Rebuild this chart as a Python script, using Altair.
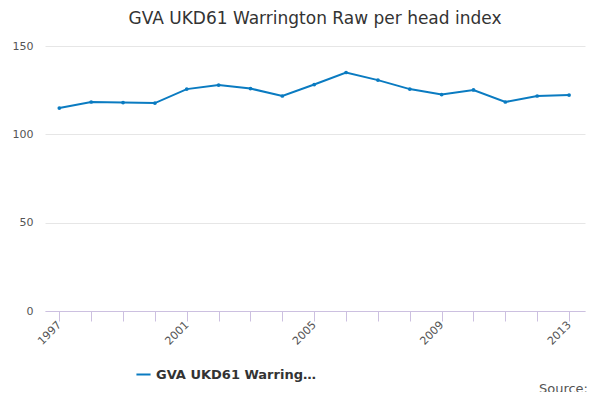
import pandas as pd
import altair as alt

years = list(range(1997, 2014))
values = [114.9, 118.3, 118.0, 117.7, 125.6, 127.9, 125.9, 121.7, 128.2,
          135.0, 130.7, 125.6, 122.5, 125.1, 118.3, 121.7, 122.2]
series = "GVA UKD61 Warrington Raw per head index"

df = pd.DataFrame({"year": years, "value": values, "series": series})

line = alt.Chart(df).mark_line(
    point=alt.OverlayMarkDef(size=14, filled=True), strokeWidth=2
).encode(
    x=alt.X("year:Q", title=None,
            scale=alt.Scale(domain=[1996.55, 2013.5], nice=False, zero=False),
            axis=alt.Axis(values=years, labelExpr="(datum.value - 1997) % 4 == 0 ? datum.value : ''",
                          labelAngle=-45, grid=False, tickColor="#ccc0e0", tickSize=10,
                          domainColor="#ccc0e0", labelColor="#555", labelFontSize=11,
                          labelAlign="right", labelBaseline="middle", labelPadding=2)),
    y=alt.Y("value:Q", title=None, scale=alt.Scale(domain=[0, 150]),
            axis=alt.Axis(values=[0, 50, 100, 150], domain=False, ticks=False,
                          gridColor="#e6e6e6", labelColor="#555", labelFontSize=11,
                          labelPadding=12)),
    color=alt.Color("series:N", title=None,
                    scale=alt.Scale(range=["#0a7bc1"]),
                    legend=alt.Legend(orient="none", legendX=90, legendY=55 + 265,
                                      symbolType="stroke", symbolStrokeWidth=2,
                                      labelFontSize=13, labelFontWeight="bold",
                                      labelColor="#333", symbolSize=200)),
)

source = alt.Chart(pd.DataFrame({"t": ["Source:"]})).mark_text(
    align="right", fontSize=13, color="#555"
).encode(x=alt.value(543), y=alt.value(343), text="t:N")

chart = alt.layer(line, source).properties(
    width=540, height=265,
    autosize=alt.AutoSizeParams(type="none"),
    padding={"left": 37, "top": 38, "right": 7, "bottom": 81},
    title=alt.TitleParams("GVA UKD61 Warrington Raw per head index",
                          fontSize=17, fontWeight="normal", color="#333",
                          anchor="middle", offset=12),
).configure(font="DejaVu Sans").configure_view(stroke="transparent")

chart.save("out.html", embed_options={"renderer": "svg", "actions": False})
